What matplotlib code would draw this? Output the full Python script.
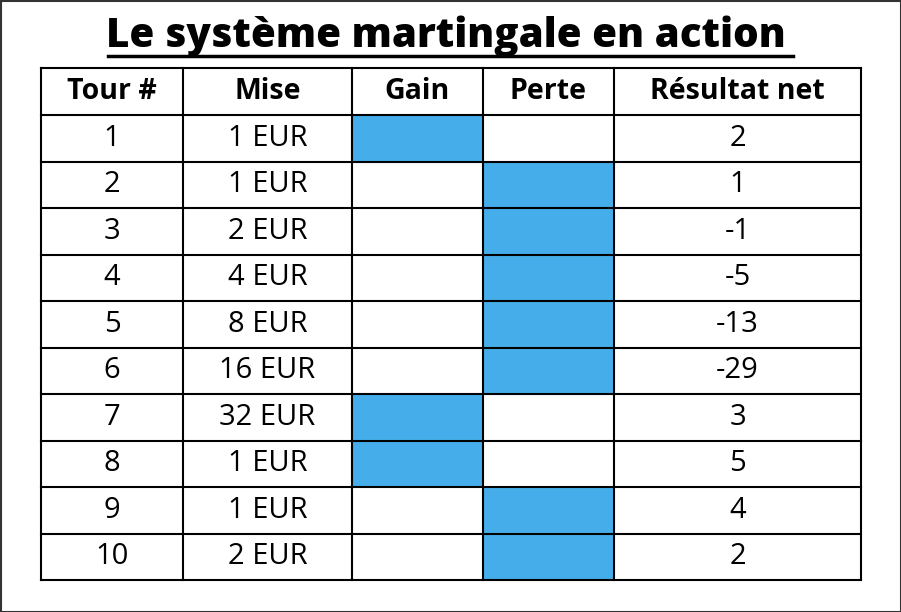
import matplotlib
matplotlib.use("Agg")
import matplotlib.pyplot as plt
from matplotlib.patches import Rectangle

title = "Le système martingale en action"
headers = ["Tour #", "Mise", "Gain", "Perte", "Résultat net"]
tours = [1, 2, 3, 4, 5, 6, 7, 8, 9, 10]
mises = [1, 1, 2, 4, 8, 16, 32, 1, 1, 2]
outcomes = ["G", "P", "P", "P", "P", "P", "G", "G", "P", "P"]
nets = [2, 1, -1, -5, -13, -29, 3, 5, 4, 2]

col_edges = [41, 183, 352, 483, 614, 861]
top, header_h, row_h = 68, 47, 46.5
blue = "#45AEEA"
font = "Open Sans"

fig = plt.figure(figsize=(9.01, 6.12), dpi=100)
ax = fig.add_axes([0, 0, 1, 1])
ax.set_xlim(0, 901)
ax.set_ylim(612, 0)
ax.axis("off")

# frame
ax.add_patch(Rectangle((0.5, 0.5), 900, 611, fill=False, ec="#333333", lw=1.5))

ax.text(446, 36, title, ha="center", va="center", fontsize=29,
        fontweight="heavy", family=font)
ax.plot([108, 793], [56, 56], color="black", lw=2.5)

def cx(i):
    return (col_edges[i] + col_edges[i + 1]) / 2

for i, h in enumerate(headers):
    ax.text(cx(i), top + header_h / 2, h, ha="center", va="center",
            fontsize=20.5, fontweight="bold", family=font)

for r in range(len(tours)):
    y0 = top + header_h + r * row_h
    yc = y0 + row_h / 2
    ci = 2 if outcomes[r] == "G" else 3
    ax.add_patch(Rectangle((col_edges[ci], y0), col_edges[ci + 1] - col_edges[ci],
                           row_h, color=blue, lw=0))
    vals = [str(tours[r]), f"{mises[r]} EUR", "", "", str(nets[r])]
    for i, v in enumerate(vals):
        if v:
            ax.text(cx(i), yc, v, ha="center", va="center", fontsize=21, family=font)

bottom = top + header_h + len(tours) * row_h
for x in col_edges:
    ax.plot([x, x], [top, bottom], color="black", lw=1.5)
ys = [top] + [top + header_h + r * row_h for r in range(len(tours) + 1)]
for y in ys:
    ax.plot([col_edges[0], col_edges[-1]], [y, y], color="black", lw=1.5)

fig.savefig("out.png", dpi=100)
